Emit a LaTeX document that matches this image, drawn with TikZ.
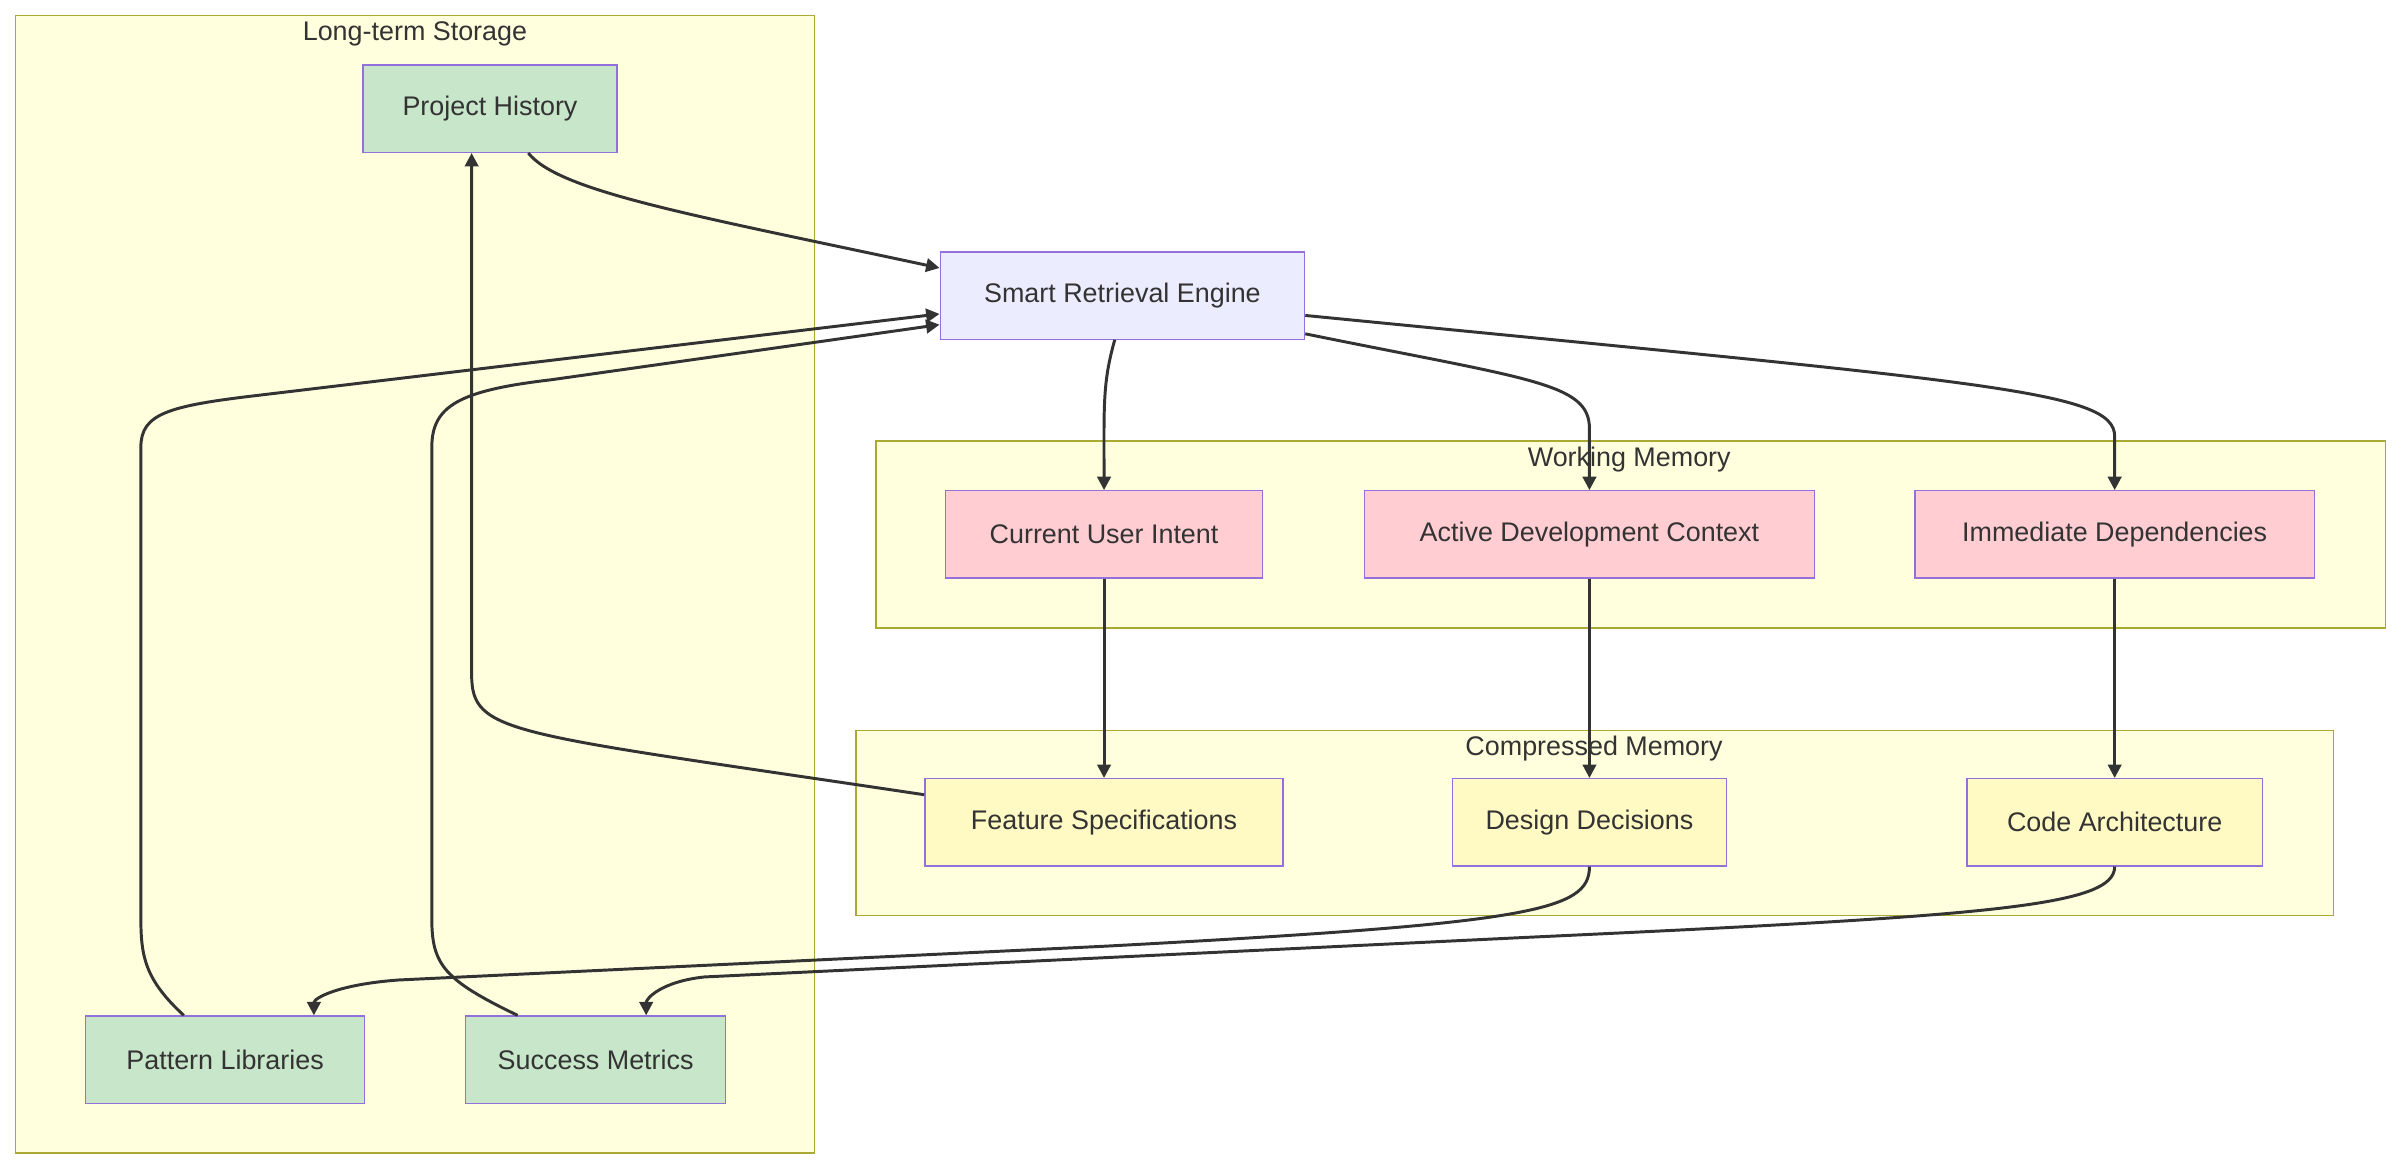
\documentclass[tikz,border=0pt]{standalone}
\usepackage{fontspec}
\setmainfont{Liberation Sans}
\usetikzlibrary{arrows.meta, positioning}
\definecolor{clfill}{HTML}{FFFFDE}
\definecolor{cldraw}{HTML}{AAAA33}
\definecolor{ndraw}{HTML}{9370DB}
\definecolor{engine}{HTML}{ECECFF}
\definecolor{longc}{HTML}{C8E6C9}
\definecolor{workc}{HTML}{FFCDD2}
\definecolor{compc}{HTML}{FFF9C4}
\definecolor{edge}{HTML}{333333}
\tikzset{
  cluster/.style={draw=cldraw, fill=clfill, line width=0.5pt},
  box/.style={draw=ndraw, line width=0.5pt, minimum height=1.14cm, inner xsep=0.2cm, font=\fontsize{10}{12}\selectfont, text=edge},
  flow/.style={draw=edge, line width=1.1pt, -{Triangle[length=5pt, width=5pt]}},
  cltitle/.style={font=\fontsize{10}{12}\selectfont, text=edge}
}
\begin{document}
\begin{tikzpicture}[x=0.02cm, y=-0.02cm]
\useasboundingbox (0,0) rectangle (1568,765);
% clusters
\draw[cluster] (10,10) rectangle (532,753);
\node[cltitle] (lt) at (271,22) {Long-term Storage};
\draw[cluster] (572,288) rectangle (1558,410);
\node[cltitle] (wm) at (1064,300) {Working Memory};
\draw[cluster] (559,477) rectangle (1524,598);
\node[cltitle] (cm) at (1041,489) {Compressed Memory};

% nodes
\node[box, fill=longc, minimum width=3.32cm] (ph) at (320,71) {Project History};
\node[box, fill=engine, minimum width=4.76cm] (sre) at (733,193) {Smart Retrieval Engine};
\node[box, fill=workc, minimum width=4.14cm] (cui) at (721,349) {Current User Intent};
\node[box, fill=workc, minimum width=5.88cm] (adc) at (1038,349) {Active Development Context};
\node[box, fill=workc, minimum width=5.22cm] (idp) at (1381,349) {Immediate Dependencies};
\node[box, fill=compc, minimum width=4.68cm] (fs) at (721,537) {Feature Specifications};
\node[box, fill=compc, minimum width=3.58cm] (dd) at (1038,537) {Design Decisions};
\node[box, fill=compc, minimum width=3.86cm] (ca) at (1381,537) {Code Architecture};
\node[box, fill=longc, minimum width=3.64cm] (pl) at (147,692) {Pattern Libraries};
\node[box, fill=longc, minimum width=3.40cm] (sm) at (389,692) {Success Metrics};

% connectors
\draw[flow] ([xshift=0.5cm]ph.south) .. controls (365,125) and (450,140) .. (sre.west |- 0,175);
\draw[flow] ([xshift=-0.1cm]sre.south) .. controls (720,250) and (721,265) .. (cui.north);
\draw[flow] (sre.east |- 0,218) .. controls (1000,248) and (1038,250) .. (1038,280) -- (adc.north);
\draw[flow] (sre.east |- 0,206) .. controls (1300,250) and (1381,255) .. (1381,285) -- (idp.north);
\draw[flow] (cui) -- (fs);
\draw[flow] (adc) -- (dd);
\draw[flow] (idp) -- (ca);
\draw[flow] (fs.west |- 0,519) .. controls (330,478) and (308,480) .. (308,440) -- ([xshift=-0.24cm]ph.south);
\draw[flow] (dd.south) .. controls (1038,595) and (1000,603) .. (720,618) -- (260,640) .. controls (220,643) and (205,652) .. ([xshift=1.16cm]pl.north);
\draw[flow] (ca.south) .. controls (1381,592) and (1300,598) .. (1000,612) -- (460,638) .. controls (432,641) and (422,652) .. ([xshift=0.66cm]sm.north);
\draw[flow] ([xshift=-0.54cm]pl.north) .. controls (95,640) and (92,625) .. (92,600) -- (92,292) .. controls (92,270) and (110,265) .. (170,258) -- (sre.west |- 0,205);
\draw[flow] ([xshift=-1.02cm]sm.north) .. controls (290,640) and (282,630) .. (282,600) -- (282,292) .. controls (282,265) and (300,255) .. (360,248) -- (sre.west |- 0,212);
\end{tikzpicture}
\end{document}
